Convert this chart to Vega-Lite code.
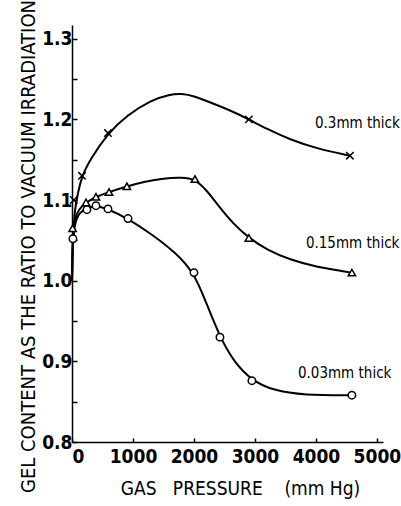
{
  "$schema": "https://vega.github.io/schema/vega-lite/v6.json",
  "autosize": "none",
  "width": 311,
  "height": 417,
  "padding": {"left": 72, "top": 25, "right": 18, "bottom": 64},
  "background": "white",
  "config": {
    "view": {"stroke": null},
    "font": "DejaVu Sans Condensed",
    "axis": {"domainColor": "black", "tickColor": "black", "labelColor": "black", "titleColor": "black", "grid": false, "domainWidth": 1.5, "tickWidth": 1.5}
  },
  "datasets": {
    "curves": [
      {"s": "0.3mm", "p": 0, "v": 1.0}, {"s": "0.3mm", "p": 15, "v": 1.06}, {"s": "0.3mm", "p": 50, "v": 1.09}, {"s": "0.3mm", "p": 100, "v": 1.11}, {"s": "0.3mm", "p": 164, "v": 1.13}, {"s": "0.3mm", "p": 295, "v": 1.15}, {"s": "0.3mm", "p": 590, "v": 1.183}, {"s": "0.3mm", "p": 900, "v": 1.205}, {"s": "0.3mm", "p": 1300, "v": 1.224}, {"s": "0.3mm", "p": 1600, "v": 1.231}, {"s": "0.3mm", "p": 1800, "v": 1.232}, {"s": "0.3mm", "p": 2000, "v": 1.229}, {"s": "0.3mm", "p": 2300, "v": 1.22}, {"s": "0.3mm", "p": 2600, "v": 1.211}, {"s": "0.3mm", "p": 2900, "v": 1.2}, {"s": "0.3mm", "p": 3200, "v": 1.188}, {"s": "0.3mm", "p": 3574, "v": 1.175}, {"s": "0.3mm", "p": 4000, "v": 1.164}, {"s": "0.3mm", "p": 4557, "v": 1.155},
      {"s": "0.15mm", "p": 0, "v": 1.0}, {"s": "0.15mm", "p": 10, "v": 1.055}, {"s": "0.15mm", "p": 40, "v": 1.075}, {"s": "0.15mm", "p": 100, "v": 1.088}, {"s": "0.15mm", "p": 230, "v": 1.097}, {"s": "0.15mm", "p": 393, "v": 1.104}, {"s": "0.15mm", "p": 607, "v": 1.11}, {"s": "0.15mm", "p": 900, "v": 1.117}, {"s": "0.15mm", "p": 1200, "v": 1.123}, {"s": "0.15mm", "p": 1500, "v": 1.127}, {"s": "0.15mm", "p": 1800, "v": 1.128}, {"s": "0.15mm", "p": 2016, "v": 1.126}, {"s": "0.15mm", "p": 2200, "v": 1.113}, {"s": "0.15mm", "p": 2400, "v": 1.093}, {"s": "0.15mm", "p": 2650, "v": 1.07}, {"s": "0.15mm", "p": 2900, "v": 1.053}, {"s": "0.15mm", "p": 3200, "v": 1.038}, {"s": "0.15mm", "p": 3574, "v": 1.026}, {"s": "0.15mm", "p": 4000, "v": 1.017}, {"s": "0.15mm", "p": 4590, "v": 1.01},
      {"s": "0.03mm", "p": 0, "v": 1.0}, {"s": "0.03mm", "p": 10, "v": 1.045}, {"s": "0.03mm", "p": 40, "v": 1.07}, {"s": "0.03mm", "p": 120, "v": 1.085}, {"s": "0.03mm", "p": 250, "v": 1.09}, {"s": "0.03mm", "p": 393, "v": 1.093}, {"s": "0.03mm", "p": 590, "v": 1.089}, {"s": "0.03mm", "p": 918, "v": 1.077}, {"s": "0.03mm", "p": 1300, "v": 1.058}, {"s": "0.03mm", "p": 1700, "v": 1.035}, {"s": "0.03mm", "p": 2000, "v": 1.01}, {"s": "0.03mm", "p": 2200, "v": 0.973}, {"s": "0.03mm", "p": 2426, "v": 0.93}, {"s": "0.03mm", "p": 2650, "v": 0.9}, {"s": "0.03mm", "p": 2950, "v": 0.876}, {"s": "0.03mm", "p": 3300, "v": 0.864}, {"s": "0.03mm", "p": 3800, "v": 0.858}, {"s": "0.03mm", "p": 4590, "v": 0.858}
    ],
    "points": [
      {"s": "0.3mm", "p": 30, "v": 1.1}, {"s": "0.3mm", "p": 164, "v": 1.13}, {"s": "0.3mm", "p": 590, "v": 1.183}, {"s": "0.3mm", "p": 2900, "v": 1.2}, {"s": "0.3mm", "p": 4557, "v": 1.155},
      {"s": "0.15mm", "p": 10, "v": 1.065}, {"s": "0.15mm", "p": 230, "v": 1.097}, {"s": "0.15mm", "p": 393, "v": 1.104}, {"s": "0.15mm", "p": 607, "v": 1.11}, {"s": "0.15mm", "p": 900, "v": 1.117}, {"s": "0.15mm", "p": 2016, "v": 1.126}, {"s": "0.15mm", "p": 2900, "v": 1.053}, {"s": "0.15mm", "p": 4590, "v": 1.01},
      {"s": "0.03mm", "p": 15, "v": 1.052}, {"s": "0.03mm", "p": 245, "v": 1.088}, {"s": "0.03mm", "p": 393, "v": 1.093}, {"s": "0.03mm", "p": 590, "v": 1.089}, {"s": "0.03mm", "p": 918, "v": 1.077}, {"s": "0.03mm", "p": 2000, "v": 1.01}, {"s": "0.03mm", "p": 2426, "v": 0.93}, {"s": "0.03mm", "p": 2950, "v": 0.876}, {"s": "0.03mm", "p": 4590, "v": 0.858}
    ],
    "labels": [
      {"label": "0.3mm thick", "p": 3984, "v": 1.196},
      {"label": "0.15mm thick", "p": 3836, "v": 1.047},
      {"label": "0.03mm thick", "p": 3705, "v": 0.886}
    ]
  },
  "layer": [
    {
      "data": {"name": "curves"},
      "mark": {"type": "line", "interpolate": "basis", "color": "black", "strokeWidth": 2},
      "encoding": {
        "x": {
          "field": "p", "type": "quantitative",
          "scale": {"domain": [0, 5100], "nice": false, "zero": false},
          "axis": {
            "values": [0, 500, 1000, 1500, 2000, 2500, 3000, 3500, 4000, 4500, 5000],
            "labelExpr": "datum.value % 1000 == 0 ? '' + datum.value : ''",
            "tickSize": -4, "labelPadding": 9, "labelFontSize": 19, "labelFontWeight": "bold",
            "title": "GAS\u00a0\u00a0\u00a0PRESSURE\u00a0\u00a0\u00a0\u00a0(mm Hg)",
            "titleFontSize": 19, "titleFontWeight": "normal", "titleX": 168, "titleY": 46, "titleBaseline": "middle", "titleAnchor": "middle"
          }
        },
        "y": {
          "field": "v", "type": "quantitative",
          "scale": {"domain": [0.8, 1.317], "nice": false, "zero": false},
          "axis": {
            "values": [0.8, 0.85, 0.9, 0.95, 1.0, 1.05, 1.1, 1.15, 1.2, 1.25, 1.3],
            "labelExpr": "round(datum.value * 100) % 10 == 0 ? format(datum.value, '.1f') : ''",
            "tickSize": -5, "labelPadding": 5, "labelFontSize": 19, "labelFontWeight": "bold",
            "title": "GEL CONTENT AS THE RATIO TO VACUUM IRRADIATION",
            "titleFontSize": 20, "titleFontWeight": "normal", "titleX": -44, "titleY": 221, "titleBaseline": "middle", "titleAnchor": "middle"
          }
        },
        "detail": {"field": "s"}
      }
    },
    {
      "data": {"name": "points"},
      "mark": {"type": "point", "filled": false, "stroke": "black", "strokeWidth": 1.5, "fill": "white", "fillOpacity": 1, "size": 55, "opacity": 1},
      "encoding": {
        "x": {"field": "p", "type": "quantitative"},
        "y": {"field": "v", "type": "quantitative"},
        "shape": {
          "field": "s", "type": "nominal",
          "scale": {"domain": ["0.3mm", "0.15mm", "0.03mm"], "range": ["M-1,-1L1,1M1,-1L-1,1", "triangle-up", "circle"]},
          "legend": null
        }
      }
    },
    {
      "data": {"name": "labels"},
      "mark": {"type": "text", "align": "left", "baseline": "middle", "fontSize": 15, "color": "black"},
      "encoding": {
        "x": {"field": "p", "type": "quantitative"},
        "y": {"field": "v", "type": "quantitative"},
        "text": {"field": "label"}
      }
    }
  ]
}
